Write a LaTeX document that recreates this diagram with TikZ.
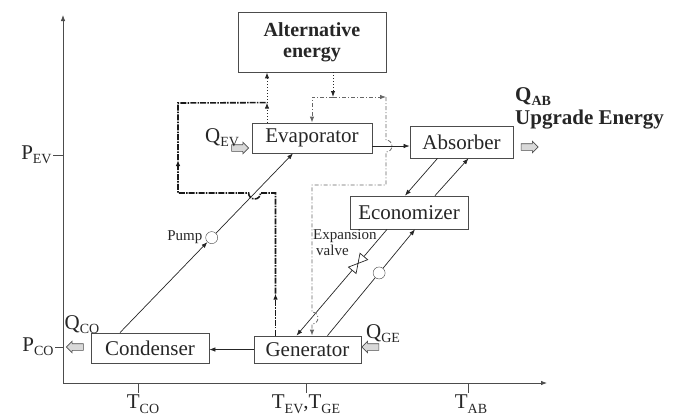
\documentclass[tikz,border=0pt]{standalone}
\usepackage{fontspec}
\setmainfont{Liberation Serif}
\usetikzlibrary{arrows.meta,calc,positioning,shapes.arrows}
\newcommand\subtxt[1]{\raisebox{-.45ex}{\fontsize{14}{14}\selectfont #1}}

\begin{document}
\begin{tikzpicture}[x=1pt, y=-1pt, >={Latex[length=6pt,width=4.5pt]},
  every node/.style={text=black!85},
  unit/.style={draw=black!70, line width=.8pt, fill=white, inner sep=0pt,
    font=\fontsize{21}{23}\selectfont},
  axis/.style={draw=black!70, line width=.8pt},
  flow/.style={draw=black!85, line width=.7pt},
  loopline/.style={draw=black!90, line width=1.6pt,
    dash pattern=on 6pt off 1.2pt on 1.5pt off 1.2pt},
  vapor/.style={draw=black!85, line width=1pt, dotted},
  extheat/.style={draw=black!60, line width=.8pt,
    dash pattern=on 4pt off 2pt on 1pt off 2pt},
  heat/.style={single arrow, draw=black!70, fill=black!15, line width=.6pt,
    minimum height=17pt, single arrow head extend=2.5pt, inner sep=0pt,
    text height=3pt, text depth=3pt, text width=0pt},
  lbl/.style={font=\fontsize{21}{23}\selectfont, inner sep=0pt},
  small/.style={font=\fontsize{15}{18}\selectfont, inner sep=0pt, align=left}]
\useasboundingbox (0,0) rectangle (676,418);

% axes and ticks
\coordinate (O) at (63,383);
\draw[axis,->] (O) -- (O |- 0,15);
\draw[axis,->] (O) -- (547,383);
\draw[axis] (63,155) -- (53,155) node[lbl, left=1pt] {P\subtxt{EV}};
\draw[axis] (63,347) -- (55,347) node[lbl, left=1pt] {P\subtxt{CO}};
\draw[axis] (138,383) -- (138,393);
\draw[axis] (306,383) -- (306,393);
\draw[axis] (468,383) -- (468,393);
\node[lbl, anchor=north] at (143,395) {T\subtxt{CO}};
\node[lbl, anchor=north] at (306,395) {T\subtxt{EV},T\subtxt{GE}};
\node[lbl, anchor=north] at (471,395) {T\subtxt{AB}};

% components
\node[unit, minimum width=148pt, minimum height=60pt, align=center,
  font=\fontsize{20}{21}\selectfont\bfseries] (alt) at (312,42) {Alternative\\energy};
\node[unit, minimum width=120pt, minimum height=30pt] (evap) at (312,138) {Evaporator};
\node[unit, minimum width=103pt, minimum height=32pt] (absb) at (461.5,142) {Absorber};
\node[unit, minimum width=118pt, minimum height=33pt] (econ) at (409,212.5) {Economizer};
\node[unit, minimum width=118pt, minimum height=30pt] (cond) at (150,348) {Condenser};
\node[unit, minimum width=107pt, minimum height=27pt] (gen) at (307.5,349.5) {Generator};

% heat in / out
\node[heat] (qev) at (238.5,148) {};
\node[lbl, anchor=base] at (222,142) {Q\subtxt{EV}};
\node[heat] (qab) at (528,147) {};
\node[lbl, anchor=base west, font=\fontsize{21}{23}\selectfont\bfseries] at (515,101) {Q\subtxt{AB}};
\node[lbl, anchor=base west, font=\fontsize{21}{23}\selectfont\bfseries] at (515,124) {Upgrade Energy};
\node[heat, shape border rotate=180] (qco) at (76.5,347) {};
\node[lbl, anchor=base] at (82,329) {Q\subtxt{CO}};
\node[heat, shape border rotate=180] (qge) at (372,347) {};
\node[lbl, anchor=base west] at (366,338) {Q\subtxt{GE}};

% working fluid
\draw[flow,->] (gen.west) -- (gen.west -| cond.east);
\coordinate (c1) at ([xshift=-30pt]cond.north);
\coordinate (e1) at ([xshift=-19pt]evap.south);
\node[circle, draw=black!75, fill=white, minimum size=12pt, inner sep=0pt] (pump)
  at ($(c1)!0.53!(e1)$) {};
\node[small, left=3pt of pump] {Pump};
\draw[flow,->] (c1) -- (pump);
\draw[flow,->] (pump) -- (e1);
\coordinate (ab-in) at ([yshift=-4pt]absb.west);
\draw[flow,->] (evap.east |- ab-in) -- (ab-in);
\draw[flow,->] ([xshift=-24pt]absb.south) -- ([xshift=-4pt]econ.north);
\draw[flow,->] ([xshift=26pt]econ.north) -- ([xshift=7pt]absb.south);

\coordinate (e3) at ([xshift=-22pt]econ.south);
\coordinate (g5) at ([xshift=-11pt]gen.north);
\draw[flow,->] (e3) -- (g5);
\coordinate (valve) at ($(e3)!0.32!(g5)$);
\begin{scope}[shift={(valve)}, rotate=50]
  \draw[flow, fill=white] (-9,-5) -- (9,5) -- (9,-5) -- (-9,5) -- cycle;
\end{scope}
\node[small, anchor=north west] at (313,229) {Expansion\\[-2pt]\hspace{3pt}valve};

\coordinate (g4) at ([xshift=20pt]gen.north);
\coordinate (e4) at ([xshift=6pt]econ.south);
\node[circle, draw=black!75, fill=white, minimum size=12pt, inner sep=0pt] (pump2)
  at ($(g4)!0.59!(e4)$) {};
\draw[flow] (g4) -- (pump2);
\draw[flow,->] (pump2) -- (e4);

% vapour loop to the alternative energy unit
\coordinate (g1) at ([xshift=-32pt]gen.north);
\coordinate (e2) at ([xshift=-45pt]evap.north);
\coordinate (j1) at ($(e2)+(0,-20)$);
\draw[loopline,->] (g1) -- ++(0,-42) coordinate (l1);
\draw[loopline,->] (l1) -- (g1 |- 0,193) -- (260.6,193)
  arc[start angle=0, end angle=180, radius=6] -- (178,193) -- (178,160);
\draw[loopline] (178,160) -- (178,103) -- (j1);
\draw[vapor,->] (e2) -- (j1);
\draw[vapor,->] (j1) -- (e2 |- alt.south);

% heat from the alternative energy unit
\coordinate (a1) at ([xshift=21pt]alt.south);
\coordinate (a2) at (a1 |- 0,97);
\coordinate (d1) at (386,97);
\coordinate (g3) at ([xshift=4.5pt]gen.north);
\draw[vapor,->] (a1) -- (a2);
\draw[extheat,->] (a2) -- (d1);
\draw[extheat,->] (a2) -| (evap.north);
\draw[extheat,->] (d1) -- (386,140) arc[start angle=-90, end angle=90, radius=6]
  -- (386,185) -- (g3 |- 0,185) -- (g3 |- 0,312)
  arc[start angle=-90, end angle=90, radius=6] -- (g3);
\end{tikzpicture}
\end{document}
